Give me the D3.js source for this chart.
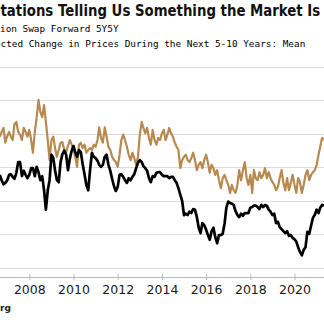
<!DOCTYPE html>
<head>
    <meta charset="utf-8"/>
    <script src="https://d3js.org/d3.v7.min.js"></script>
    <style>
        body {
            margin: 0;
            background: #fff;
        }
    </style>
</head>

<body>
<script>
    var width = 324,
        height = 331;

    // monthly points, first one is Sep 2006
    var startMonth = new Date(2006, 8, 1);

    // UMich: expected change in prices during the next 5-10 years (mean)
    var survey = [2.96, 3.03, 3.09, 2.87, 2.97, 3.03, 2.96, 2.91, 3.15, 3.18, 3.03, 2.99,
        2.91, 3.09, 3.03, 2.96, 3.06, 2.91, 2.72, 3.03, 3.24, 3.51, 3.33, 3.25,
        3.43, 3.18, 2.91, 2.61, 2.91, 2.96, 2.79, 2.66, 2.76, 2.87, 2.88, 2.76,
        2.73, 2.82, 2.91, 2.84, 2.76, 2.64, 2.51, 2.84, 2.87, 2.79, 2.84, 2.72,
        2.76, 2.79, 2.76, 2.84, 2.81, 2.91, 3.10, 2.94, 2.87, 3.10, 2.96, 2.81,
        2.76, 2.66, 2.61, 2.58, 2.51, 2.69, 2.91, 2.99, 2.91, 2.81, 2.69, 2.61,
        2.72, 2.64, 2.54, 2.66, 2.99, 3.18, 3.09, 3.01, 3.09, 2.94, 2.84, 3.06,
        2.91, 2.84, 2.94, 2.91, 3.01, 3.06, 2.91, 2.99, 3.09, 3.01, 2.96, 2.87,
        2.81, 2.76, 2.49, 2.61, 2.66, 2.69, 2.61, 2.58, 2.64, 2.72, 2.61, 2.46,
        2.54, 2.58, 2.49, 2.61, 2.69, 2.57, 2.42, 2.54, 2.49, 2.39, 2.46, 2.31,
        2.19, 2.34, 2.39, 2.31, 2.24, 2.12, 2.24, 2.16, 2.12, 2.24, 2.46, 2.31,
        2.46, 2.58, 2.34, 2.24, 2.39, 2.12, 2.46, 2.34, 2.31, 2.43, 2.34, 2.39,
        2.49, 2.34, 2.43, 2.34, 2.28, 2.24, 2.16, 2.21, 2.34, 2.46, 2.27, 2.16,
        2.34, 2.16, 2.27, 2.39, 2.24, 2.12, 2.34, 2.28, 2.12, 2.24, 2.39, 2.46,
        2.31, 2.39, 2.43, 2.46, 2.54, 2.69, 2.81, 2.94, 2.91];

    // Inflation swap forward 5Y5Y
    var swap = [2.39, 2.31, 2.25, 2.27, 2.31, 2.39, 2.40, 2.36, 2.33, 2.42, 2.58, 2.58,
        2.37, 2.45, 2.39, 2.34, 2.39, 2.49, 2.49, 2.37, 2.51, 2.43, 2.31, 2.37,
        2.16, 1.87, 2.16, 2.31, 2.69, 2.64, 2.46, 2.31, 2.28, 2.58, 2.70, 2.75,
        2.69, 2.46, 2.63, 2.75, 2.82, 2.72, 2.66, 2.76, 2.73, 2.55, 2.40, 2.24,
        2.16, 2.46, 2.72, 2.66, 2.64, 2.60, 2.54, 2.51, 2.54, 2.66, 2.69, 2.54,
        2.45, 2.33, 2.22, 2.15, 2.21, 2.39, 2.40, 2.36, 2.31, 2.27, 2.34, 2.31,
        2.36, 2.40, 2.49, 2.57, 2.61, 2.58, 2.52, 2.49, 2.45, 2.34, 2.28, 2.37,
        2.36, 2.42, 2.43, 2.43, 2.39, 2.37, 2.37, 2.37, 2.34, 2.36, 2.36, 2.31,
        2.27, 2.19, 2.09, 2.00, 1.79, 1.81, 1.79, 1.84, 1.82, 1.88, 1.87, 1.76,
        1.60, 1.52, 1.67, 1.64, 1.57, 1.49, 1.42, 1.55, 1.60, 1.46, 1.37, 1.49,
        1.49, 1.51, 1.66, 1.90, 1.99, 1.97, 1.96, 1.94, 1.85, 1.79, 1.76, 1.81,
        1.78, 1.82, 1.82, 1.82, 1.90, 1.91, 1.93, 1.93, 1.91, 1.88, 1.94, 1.91,
        1.94, 1.93, 1.87, 1.84, 1.79, 1.81, 1.67, 1.69, 1.61, 1.58, 1.55, 1.52,
        1.55, 1.48, 1.49, 1.45, 1.43, 1.39, 1.31, 1.24, 1.19, 1.27, 1.31, 1.54,
        1.51, 1.63, 1.75, 1.79, 1.87, 1.82, 1.90, 1.94, 1.93];

    var gridValues = [1.0, 1.5, 2.0, 2.5, 3.0, 3.5, 4.0];
    var tickYears = [2008, 2010, 2012, 2014, 2016, 2018, 2020];

    var title = "tations Telling Us Something the Market Is";
    var legend1 = "ion Swap Forward 5Y5Y";
    var legend2 = "cted Change in Prices During the Next 5-10 Years: Mean";
    var source = "rg";

    function monthDate(i) {
        return d3.timeMonth.offset(startMonth, i);
    }

    var svg = d3.select("body")
        .append("svg")
        .attr("width", width)
        .attr("height", height);

    var x = d3.scaleTime()
        .domain([new Date(2008, 0, 1), new Date(2020, 0, 1)])
        .range([29.3, 294.5]);

    var y = d3.scaleLinear()
        .domain([0.88, 4.0])
        .range([276, 67]);

    // grid
    svg.append("g")
        .selectAll("line")
        .data(gridValues)
        .join("line")
        .attr("x1", 0)
        .attr("x2", width)
        .attr("y1", function (d) { return Math.round(y(d)) + 0.5; })
        .attr("y2", function (d) { return Math.round(y(d)) + 0.5; })
        .attr("stroke", "#dcdcdc")
        .attr("stroke-width", 1);

    // x axis
    var xAxis = d3.axisBottom(x)
        .tickValues(tickYears.map(function (d) { return new Date(d, 0, 1); }))
        .tickFormat(d3.timeFormat("%Y"))
        .tickSize(4)
        .tickSizeOuter(0);

    var gx = svg.append("g")
        .attr("transform", "translate(0,277)")
        .call(xAxis);
    gx.select(".domain").remove();
    gx.append("line")
        .attr("x1", 0).attr("x2", width)
        .attr("y1", 0.5).attr("y2", 0.5)
        .attr("stroke", "#b8b8b8");
    gx.selectAll(".tick line")
        .attr("y1", -3)
        .attr("y2", 3)
        .attr("stroke", "#b8b8b8");
    gx.selectAll(".tick text")
        .attr("y", 17)
        .attr("dy", 0)
        .attr("fill", "#1a1a1a")
        .style("font-family", "'DejaVu Sans', sans-serif")
        .style("font-size", "12.5px");

    var line = d3.line()
        .x(function (d, i) { return x(monthDate(i)); })
        .y(function (d) { return y(d); });

    svg.append("path")
        .datum(survey)
        .attr("d", line)
        .attr("fill", "none")
        .attr("stroke", "#b8894f")
        .attr("stroke-width", 2.2)
        .attr("stroke-linejoin", "round");

    svg.append("path")
        .datum(swap)
        .attr("d", line)
        .attr("fill", "none")
        .attr("stroke", "#000")
        .attr("stroke-width", 2.7)
        .attr("stroke-linejoin", "round");

    // titles: title squeezed horizontally to fit the visible strip
    var t = svg.append("text")
        .style("font-family", "'DejaVu Sans', sans-serif")
        .style("font-weight", "bold")
        .style("font-size", "15.5px")
        .attr("fill", "#111")
        .text(title);
    var sx = 320 / t.node().getComputedTextLength();
    t.attr("transform", "translate(0.5,16) scale(" + sx + ",1)");

    svg.append("text")
        .attr("x", 0)
        .attr("y", 32)
        .style("font-family", "'DejaVu Sans Mono', monospace")
        .style("font-size", "9.4px")
        .attr("fill", "#000")
        .text(legend1);

    svg.append("text")
        .attr("x", 0.5)
        .attr("y", 47)
        .style("font-family", "'DejaVu Sans Mono', monospace")
        .style("font-size", "9.4px")
        .attr("fill", "#000")
        .text(legend2);

    svg.append("text")
        .attr("x", 0)
        .attr("y", 311)
        .style("font-family", "'DejaVu Sans', sans-serif")
        .style("font-weight", "bold")
        .style("font-size", "9px")
        .attr("fill", "#222")
        .text(source);
</script>
</body>
